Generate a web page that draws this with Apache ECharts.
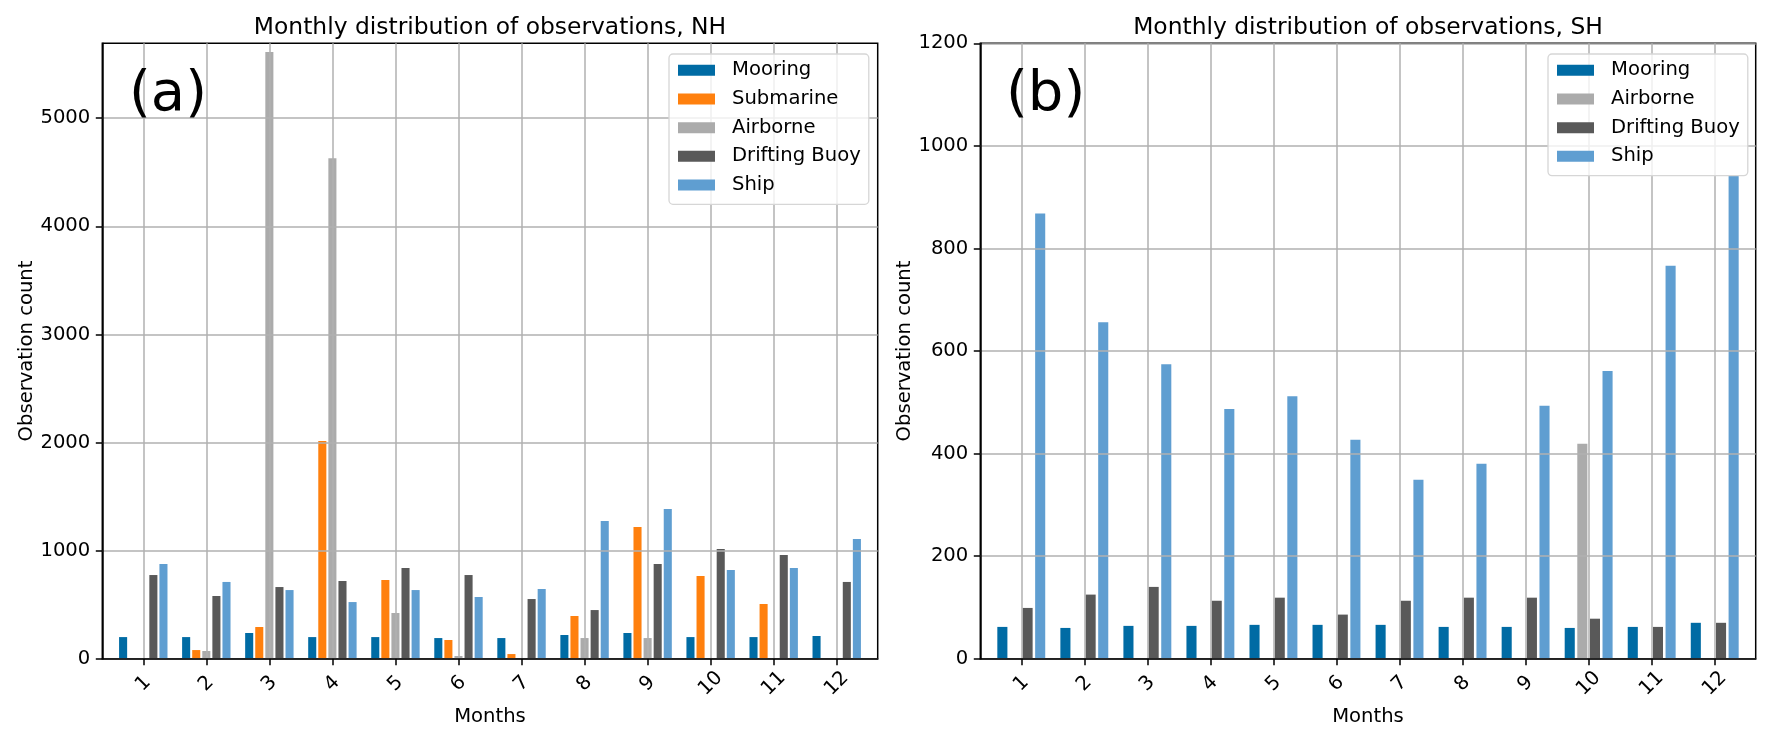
<!DOCTYPE html>
<html><head><meta charset="utf-8">
<script src="https://cdn.jsdelivr.net/npm/echarts@6/dist/echarts.min.js"></script>
<style>html,body{margin:0;padding:0;background:#fff}#c{width:1774px;height:738px}</style>
</head><body><div id="c"></div>
<script>
// ---- data ----
const monthNums = [1,2,3,4,5,6,7,8,9,10,11,12];
const monthLabels = ['1','2','3','4','5','6','7','8','9','10','11','12'];
const yTicksNH = [0,1000,2000,3000,4000,5000];
const yTicksSH = [0,200,400,600,800,1000,1200];

const mooringNH   = [200, 200, 238, 200, 200, 191, 191, 219, 238, 200, 200, 210];
const submarineNH = [0, 80, 293, 2014, 728, 173, 43, 395, 1218, 765, 506, 0];
const airborneNH  = [0, 71, 5612, 4630, 423, 25, 0, 191, 191, 0, 0, 0];
const driftingNH  = [774, 580, 663, 719, 839, 774, 552, 450, 876, 1015, 959, 710];
const shipNH      = [876, 710, 635, 524, 635, 571, 645, 1274, 1385, 821, 839, 1107];

const mooringSH   = [62, 60, 64, 64, 66, 66, 66, 62, 62, 60, 62, 70];
const airborneSH  = [0, 0, 0, 0, 0, 0, 0, 0, 0, 419, 0, 0];
const driftingSH  = [99, 125, 140, 113, 119, 86, 113, 119, 119, 78, 62, 70];
const shipSH      = [868, 656, 574, 487, 512, 427, 349, 380, 493, 561, 766, 943];

const colors = {
  'Mooring': '#006BA4',
  'Submarine': '#FF800E',
  'Airborne': '#ABABAB',
  'Drifting Buoy': '#595959',
  'Ship': '#5F9ED1'
};

// ---- helpers ----
const FS = 19.6;
const FONT = 'DejaVu Sans';
function pairs(vals){ return monthNums.map((m,i)=>[m, vals[i]]); }

function xAxisFor(gi){
  return {
    type:'value', gridIndex:gi, min:0.35, max:12.65, z:3,
    name:'Months', nameLocation:'middle', nameGap:42,
    nameTextStyle:{fontSize:FS, color:'#000', fontFamily:FONT},
    axisLine:{show:true, onZero:false, lineStyle:{color:'#000', width:1.5}},
    axisTick:{show:true, length:6.5, customValues:monthNums, lineStyle:{color:'#000', width:1.5}},
    axisLabel:{customValues:monthNums, formatter:(v)=>monthLabels[monthNums.indexOf(Math.round(v))],
      rotate:45, align:'center', verticalAlign:'middle', margin:25, fontSize:FS, color:'#000', fontFamily:FONT},
    splitLine:{show:true, lineStyle:{color:'#b0b0b0', width:1.5}}
  };
}
function yAxisFor(gi, max, ticks){
  return {
    type:'value', gridIndex:gi, min:0, max:max, z:3,
    name:'Observation count', nameLocation:'middle', nameRotate:90, nameGap:64,
    nameTextStyle:{fontSize:FS, color:'#000', fontFamily:FONT},
    axisLine:{show:true, lineStyle:{color:'#000', width:1.5}},
    axisTick:{show:true, length:6.5, customValues:ticks, lineStyle:{color:'#000', width:1.5}},
    axisLabel:{customValues:ticks, formatter:(v)=>String(Math.round(v)), margin:12, fontSize:FS, color:'#000', fontFamily:FONT},
    splitLine:{show:true, lineStyle:{color:'#b0b0b0', width:1.5}}
  };
}
function barSeries(name, vals, gi, w){
  return {
    type:'bar', name:name, xAxisIndex:gi, yAxisIndex:gi,
    data:pairs(vals), barWidth:w, barGap:'25%',
    itemStyle:{color:colors[name]}, emphasis:{disabled:true}, animation:false
  };
}
function legendFor(names, left){
  return {
    orient:'vertical', left:left, top:54, data:names,
    icon:'rect', itemWidth:37, itemHeight:11, itemGap:8.2,
    padding:[6,8,9,9], backgroundColor:'rgba(255,255,255,0.8)',
    borderColor:'#d6d6d6', borderWidth:1.3, borderRadius:4,
    textStyle:{fontSize:FS, color:'#000', fontFamily:FONT, lineHeight:20.5, padding:[0,0,0,12]},
    selectedMode:false
  };
}

const chart = echarts.init(document.getElementById('c'), null, {renderer:'canvas'});
chart.setOption({
  animation:false,
  backgroundColor:'#fff',
  textStyle:{fontFamily:FONT},
  title:[
    {text:'Monthly distribution of observations, NH', left:490, top:16, textAlign:'center', padding:0,
     textStyle:{fontSize:23.4, fontWeight:'normal', color:'#000', fontFamily:FONT}},
    {text:'Monthly distribution of observations, SH', left:1368, top:16, textAlign:'center', padding:0,
     textStyle:{fontSize:23.4, fontWeight:'normal', color:'#000', fontFamily:FONT}},
    {text:'(a)', left:129, top:67, padding:0, textStyle:{fontSize:56, fontWeight:'normal', color:'#000', fontFamily:FONT}},
    {text:'(b)', left:1006, top:67, padding:0, textStyle:{fontSize:56, fontWeight:'normal', color:'#000', fontFamily:FONT}}
  ],
  grid:[
    {left:102.3, top:43.3, width:775.4, height:615.4, show:true, borderColor:'#000', borderWidth:1.5, backgroundColor:'transparent'},
    {left:980.3, top:43.3, width:775.4, height:615.4, show:true, borderColor:'#000', borderWidth:1.5, backgroundColor:'transparent'}
  ],
  xAxis:[xAxisFor(0), xAxisFor(1)],
  yAxis:[yAxisFor(0, 5693, yTicksNH), yAxisFor(1, 1200, yTicksSH)],
  legend:[
    legendFor(['Mooring','Submarine','Airborne','Drifting Buoy','Ship'], 669),
    legendFor(['Mooring','Airborne','Drifting Buoy','Ship'], 1548)
  ],
  series:[
    barSeries('Mooring', mooringNH, 0, '12.8%'),
    barSeries('Submarine', submarineNH, 0, '12.8%'),
    barSeries('Airborne', airborneNH, 0, '12.8%'),
    barSeries('Drifting Buoy', driftingNH, 0, '12.8%'),
    barSeries('Ship', shipNH, 0, '12.8%'),
    barSeries('Mooring', mooringSH, 1, '16%'),
    barSeries('Airborne', airborneSH, 1, '16%'),
    barSeries('Drifting Buoy', driftingSH, 1, '16%'),
    barSeries('Ship', shipSH, 1, '16%')
  ]
});
</script>
</body></html>
